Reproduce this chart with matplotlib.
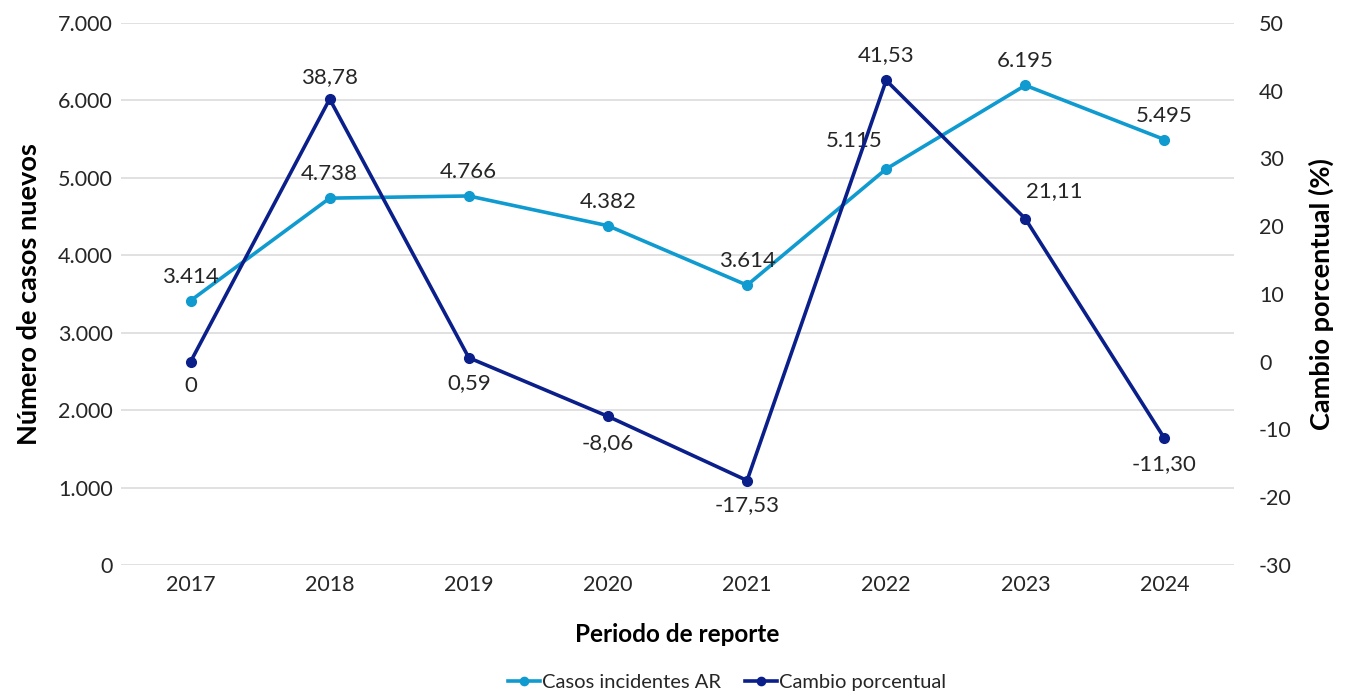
import matplotlib
matplotlib.use("Agg")
import matplotlib.pyplot as plt
from matplotlib.ticker import FuncFormatter, MultipleLocator

plt.rcParams.update({
    "font.family": ["Lato", "DejaVu Sans"],
    "font.size": 15,
    "text.color": "#262626",
    "xtick.color": "#262626",
    "ytick.color": "#262626",
    "axes.unicode_minus": False,
})

years = ["2017", "2018", "2019", "2020", "2021", "2022", "2023", "2024"]
casos = [3414, 4738, 4766, 4382, 3614, 5115, 6195, 5495]
cambio = [0, 38.78, 0.59, -8.06, -17.53, 41.53, 21.11, -11.30]
cambio_txt = ["0", "38,78", "0,59", "-8,06", "-17,53", "41,53", "21,11", "-11,30"]

# label offsets in pixels (dx, dy)
casos_off = [(0, 24), (0, 24), (0, 24), (0, 24), (0, 24), (-32, 28), (0, 24), (0, 24)]
cambio_off = [(0, -24), (0, 22), (0, -25), (0, -27), (0, -25), (0, 25), (29, 28), (0, -26)]

light = "#0F9AD0"
navy = "#0A1F8A"

fig = plt.figure(figsize=(13.56, 6.94), dpi=100)
ax = fig.add_axes([121 / 1356, 1 - 565 / 694, (1234 - 121) / 1356, (565 - 23) / 694])
ax2 = ax.twinx()

x = list(range(len(years)))
l1, = ax.plot(x, casos, color=light, lw=2.6, marker="o", ms=7, zorder=3,
              label="Casos incidentes AR")
l2, = ax2.plot(x, cambio, color=navy, lw=2.6, marker="o", ms=7, zorder=3,
               label="Cambio porcentual")

for i, v in enumerate(casos):
    ax.annotate(f"{v:,}".replace(",", "."), (x[i], v), xytext=casos_off[i],
                textcoords="offset pixels", ha="center", va="center", fontsize=16)
for i, v in enumerate(cambio):
    ax2.annotate(cambio_txt[i], (x[i], v), xytext=cambio_off[i],
                 textcoords="offset pixels", ha="center", va="center", fontsize=16)

ax.set_xlim(-0.5, len(years) - 0.5)
ax.set_ylim(0, 7000)
ax.yaxis.set_major_locator(MultipleLocator(1000))
ax.yaxis.set_major_formatter(FuncFormatter(lambda v, p: f"{int(v):,}".replace(",", ".")))
ax2.set_ylim(-30, 50)
ax2.yaxis.set_major_locator(MultipleLocator(10))

ax.set_xticks(x)
ax.set_xticklabels(years)
ax.grid(axis="y", color="#d9d9d9", lw=1.1)
ax.set_axisbelow(True)
for a in (ax, ax2):
    for s in a.spines.values():
        s.set_visible(False)
    a.tick_params(length=0, labelsize=15.5)
ax.tick_params(axis="y", pad=6)
ax.tick_params(axis="x", pad=7)
ax2.tick_params(axis="y", pad=18)

ax.set_xlabel("Periodo de reporte", fontsize=17.5, fontweight="bold", labelpad=20)
ax.set_ylabel("Número de casos nuevos", fontsize=19.5, fontweight="bold", labelpad=12)
ax2.set_ylabel("Cambio porcentual (%)", fontsize=19.5, fontweight="bold", labelpad=12)

fig.legend(handles=[l1, l2], loc="center", bbox_to_anchor=(727 / 1356, 1 - 682 / 694),
           ncol=2, frameon=False, fontsize=14.5, handlelength=1.6, handletextpad=0.1,
           columnspacing=1.2, markerscale=0.85)

fig.savefig("out.png", dpi=100)
